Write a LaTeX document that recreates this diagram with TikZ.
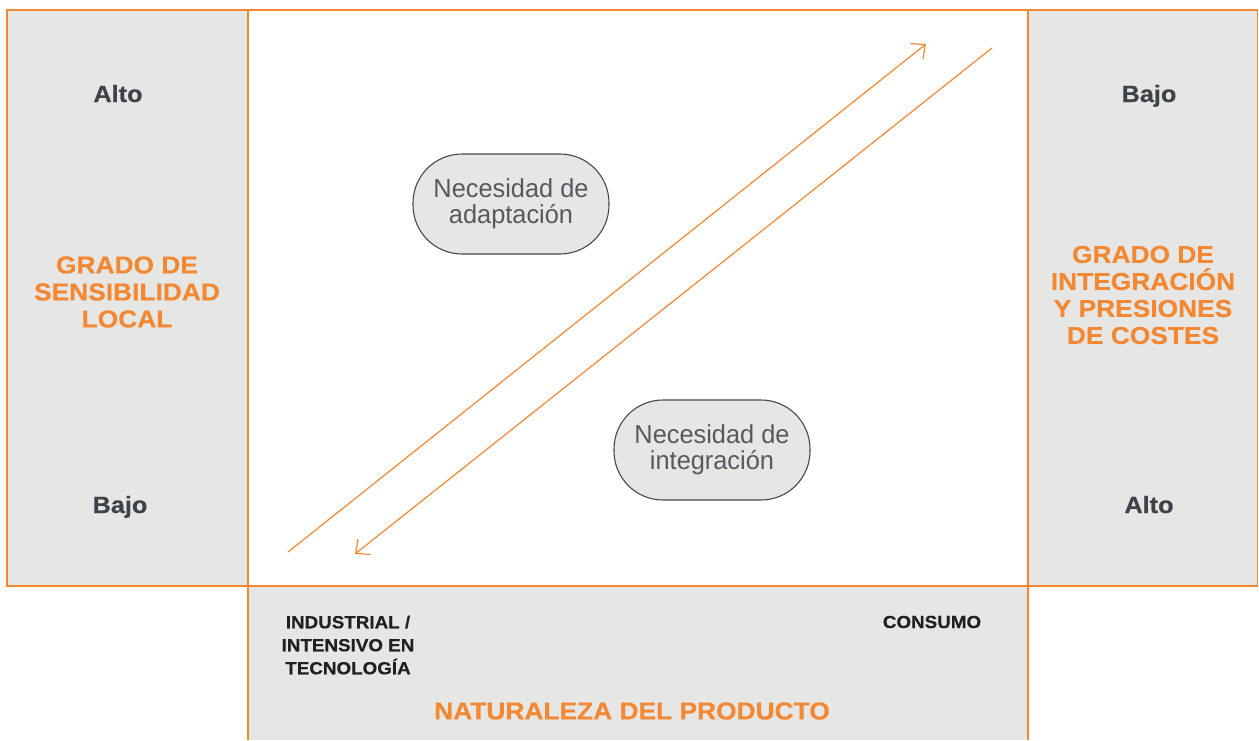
\documentclass[tikz,border=0pt]{standalone}
\usepackage{fontspec}
\setmainfont{Liberation Sans}
\newfontfamily\hbold{Liberation Sans Bold}[FakeStretch=1.075,FakeBold=0.4]
\newfontfamily\hlight{Liberation Sans}[FakeStretch=0.975]
\usetikzlibrary{arrows.meta}
\definecolor{orng}{RGB}{243,135,50}
\definecolor{panelgray}{RGB}{230,231,228}
\definecolor{darktext}{RGB}{62,67,74}
\definecolor{blacktext}{RGB}{35,31,32}
\definecolor{ovalline}{RGB}{70,72,75}
\definecolor{ovaltext}{RGB}{85,90,95}
\tikzset{
  panel/.style={fill=panelgray},
  border/.style={draw=orng, line width=1.6pt},
  levellabel/.style={font=\hbold\fontsize{23.5}{26}\selectfont, text=darktext, anchor=base},
  heading/.style={font=\hbold\fontsize{24.5}{27}\selectfont, text=orng, align=center},
  prodlabel/.style={font=\hbold\fontsize{17.5}{23}\selectfont, text=blacktext, align=center},
  oval/.style={draw=ovalline, line width=1.1pt, fill=panelgray, rounded corners=49pt,
    minimum width=196pt, minimum height=100pt, align=center, inner sep=0pt,
    font=\hlight\fontsize{26}{26.5}\selectfont, text=ovaltext},
  arr/.style={draw=orng, line width=1.2pt, -{Straight Barb[length=11pt,width=20pt]}}
}
\begin{document}
\begin{tikzpicture}[x=1pt,y=-1pt]
\path[use as bounding box] (0,0) rectangle (1259,740);
% panels
\fill[panel] (7,10) rectangle (248,586);
\fill[panel] (1028,10) rectangle (1257.5,586);
\fill[panel] (248,586) rectangle (1028,740);
% borders
\draw[border] (7,10) rectangle (1257.5,586);
\draw[border] (248,10) -- (248,740);
\draw[border] (1028,10) -- (1028,740);
% left panel
\node[levellabel] (lalto) at (118,102) {Alto};
\node[levellabel] (lbajo) at (120,513) {Bajo};
\node[heading] (lhead) at (127,292) {GRADO DE\\SENSIBILIDAD\\LOCAL};
% right panel
\node[levellabel] (rbajo) at (1149,102) {Bajo};
\node[levellabel] (ralto) at (1149,513) {Alto};
\node[heading] (rhead) at (1143,295) {GRADO DE\\INTEGRACIÓN\\Y PRESIONES\\DE COSTES};
% bottom panel
\node[prodlabel] (industrial) at (348,645) {INDUSTRIAL /\\INTENSIVO EN\\TECNOLOGÍA};
\node[prodlabel] (consumo) at (932,622) {CONSUMO};
\node[heading] (producto) at (632,711) {NATURALEZA DEL PRODUCTO};
% ovals
\node[oval] (adapt) at (511,204) {Necesidad de\\adaptación};
\node[oval] (integ) at (712,450) {Necesidad de\\integración};
% arrows
\coordinate (a1s) at (288,552);
\coordinate (a1e) at (926,44);
\coordinate (a2s) at (992,48);
\coordinate (a2e) at (355,554);
\draw[arr] (a1s) -- (a1e);
\draw[arr] (a2s) -- (a2e);
\end{tikzpicture}
\end{document}
